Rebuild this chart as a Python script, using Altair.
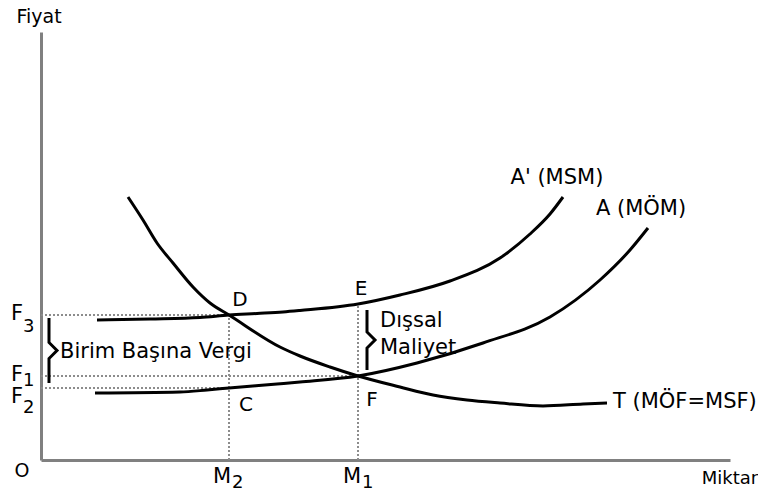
import altair as alt
import pandas as pd

# ---- values (quantity on x, price on y; O = origin) ----
demand_q = [87, 102, 116, 132, 152, 169, 188, 239, 259, 289, 317, 359, 392, 426, 459, 502, 542, 566]
demand_p = [263, 240, 217, 197, 173, 157, 145, 113, 104, 93, 84, 73, 65, 60, 57, 54, 56, 57]

msm_q = [56, 109, 159, 188, 216, 242, 259, 317, 359, 409, 459, 489, 509, 522]
msm_p = [140, 141, 142.5, 145, 146.5, 148, 149.5, 156, 165, 179, 202, 226, 246, 263]

mom_q = [54, 139, 166, 188, 236, 259, 317, 376, 442, 509, 559, 589, 607]
mom_p = [67, 68, 70, 72, 76, 78, 84, 97, 117, 143, 180, 210, 232]

M1, M2 = 317, 188          # quantities
F1, F2, F3 = 84, 72, 145   # prices
E_PRICE = 156              # social marginal cost at M1
Q_MAX, P_MAX = 689, 428    # axis extents

FONT = "DejaVu Sans"

xs = alt.Scale(domain=[0, Q_MAX], nice=False, zero=False)
ys = alt.Scale(domain=[0, P_MAX], nice=False, zero=False)
ax = alt.Axis(title="", labels=False, ticks=False, grid=False,
              domainColor="#808080", domainWidth=3)


def X(field="q"):
    return alt.X(f"{field}:Q", scale=xs, axis=ax)


def Y(field="p"):
    return alt.Y(f"{field}:Q", scale=ys, axis=ax)


# curves
rows = []
for name, qs, ps in [("T", demand_q, demand_p), ("MSM", msm_q, msm_p), ("MOM", mom_q, mom_p)]:
    for i, (q, p) in enumerate(zip(qs, ps)):
        rows.append({"series": name, "i": i, "q": q, "p": p})
curves = pd.DataFrame(rows)

curve_layer = alt.Chart(curves).mark_line(
    color="black", strokeWidth=3, interpolate="monotone"
).encode(x=X(), y=Y(), detail="series:N", order="i:Q")

# dotted guide lines
guides = pd.DataFrame([
    {"q": 0, "q2": M2, "p": F3, "p2": F3},
    {"q": 0, "q2": M1, "p": F1, "p2": F1},
    {"q": 0, "q2": M2, "p": F2, "p2": F2},
    {"q": M2, "q2": M2, "p": 0, "p2": F3},
    {"q": M1, "q2": M1, "p": 0, "p2": E_PRICE},
])
guide_layer = alt.Chart(guides).mark_rule(
    color="#8c8c8c", strokeWidth=2, strokeDash=[2, 2]
).encode(x=X(), x2="q2:Q", y=Y(), y2="p2:Q")

# braces
mid_l = (F3 - 3 + F1 - 7) / 2
mid_r = (E_PRICE - 6 + F1 + 6) / 2
brace_rows = []
for b, pts in [
    ("L", [(8, F3 - 3), (8, mid_l + 8), (16, mid_l), (8, mid_l - 8), (8, F1 - 7)]),
    ("R", [(M1 + 9, E_PRICE - 6), (M1 + 9, mid_r + 8), (M1 + 17, mid_r), (M1 + 9, mid_r - 8), (M1 + 9, F1 + 6)]),
]:
    for i, (q, p) in enumerate(pts):
        brace_rows.append({"b": b, "i": i, "q": q, "p": p})
brace_layer = alt.Chart(pd.DataFrame(brace_rows)).mark_line(
    color="black", strokeWidth=3, interpolate="linear"
).encode(x=X(), y=Y(), detail="b:N", order="i:Q")


def label(text, q, p, dx=0, dy=0, align="left", size=21):
    df = pd.DataFrame({"q": [q], "p": [p], "t": [text]})
    return alt.Chart(df).mark_text(
        align=align, baseline="alphabetic", dx=dx, dy=dy,
        fontSize=size, font=FONT, color="black"
    ).encode(x=X(), y=Y(), text="t:N")


labels = [
    label("Fiyat", 0, P_MAX, dx=-2, dy=-9, align="center", size=19),
    label("Miktar", Q_MAX, 0, dx=0, dy=24, align="center", size=18),
    label("O", 0, 0, dx=-19, dy=17, align="center", size=19),
    # price labels with subscripts
    label("F", 0, F3, dx=-30, dy=5, size=21),
    label("3", 0, F3, dx=-18, dy=17, size=18),
    label("F", 0, F1, dx=-30, dy=5, size=21),
    label("1", 0, F1, dx=-18, dy=10, size=18),
    label("F", 0, F2, dx=-30, dy=15, size=21),
    label("2", 0, F2, dx=-18, dy=25, size=18),
    # quantity labels with subscripts
    label("M", M2, 0, dx=2, dy=23, align="right", size=21),
    label("2", M2, 0, dx=3, dy=28, size=18),
    label("M", M1, 0, dx=3, dy=23, align="right", size=21),
    label("1", M1, 0, dx=4, dy=28, size=18),
    # points
    label("D", M2, F3, dx=11, dy=-9, align="center", size=20),
    label("E", M1, E_PRICE, dx=3, dy=-9, align="center", size=20),
    label("C", M2, F2, dx=17, dy=23, align="center", size=20),
    label("F", M1, F1, dx=14, dy=30, align="center", size=20),
    # annotations
    label("Birim Başına Vergi", 0, (F1 + F3) / 2, dx=19, dy=12, size=21),
    label("Dışsal", M1, E_PRICE, dx=22, dy=23, size=21),
    label("Maliyet", M1, E_PRICE, dx=22, dy=50, size=21),
    label("A' (MSM)", msm_q[-1], msm_p[-1], dx=-6, dy=-13, align="center", size=21),
    label("A (MÖM)", mom_q[-1], mom_p[-1], dx=-7, dy=-13, align="center", size=21),
    label("T (MÖF=MSF)", demand_q[-1], demand_p[-1], dx=6, dy=5, size=21),
]

chart = alt.layer(guide_layer, curve_layer, brace_layer, *labels).properties(
    width=Q_MAX, height=P_MAX,
    padding={"left": 33, "top": 24, "right": 28, "bottom": 31},
    autosize=alt.AutoSizeParams(type="none"),
    background="white",
).configure_view(stroke=None)

chart.save("out.html", embed_options={"renderer": "svg", "actions": False})
